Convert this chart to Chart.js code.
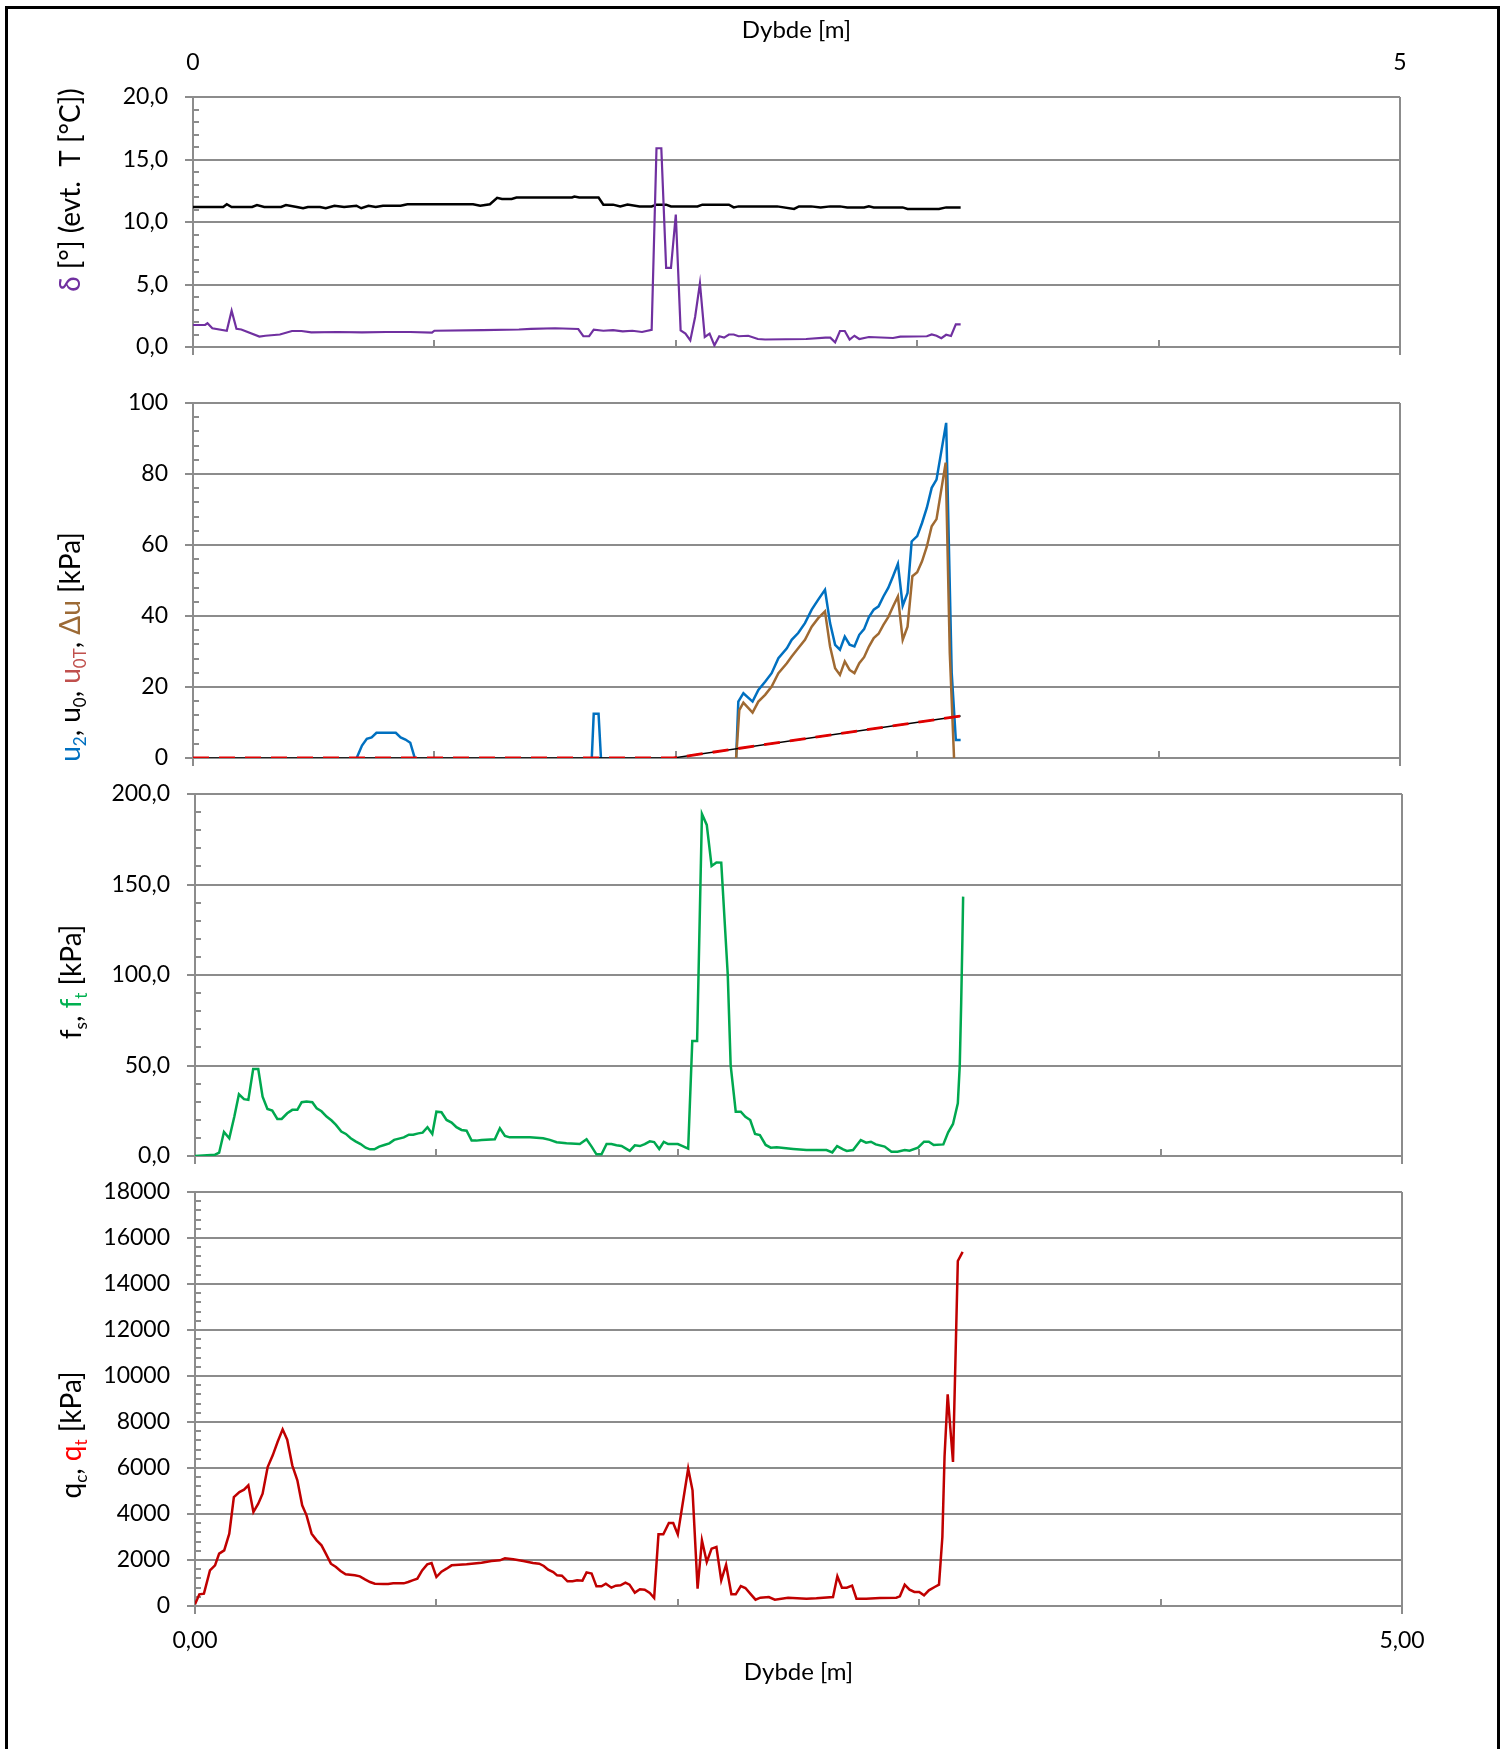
<!DOCTYPE html>
<html><head><meta charset="utf-8">
<script src="https://cdn.jsdelivr.net/npm/chart.js@4.4.1/dist/chart.umd.min.js"></script>
<style>
html,body{margin:0;padding:0;background:#fff;width:1507px;height:1749px;overflow:hidden;position:relative;}
canvas{position:absolute;left:0;}
#frame{position:absolute;left:5px;top:6px;width:1495px;height:1800px;border:3px solid #000;box-sizing:border-box;}
</style></head><body>
<div id="frame"></div>
<canvas id="c1" width="1507" height="365" style="top:0px"></canvas>
<canvas id="c2" width="1507" height="420" style="top:360px"></canvas>
<canvas id="c3" width="1507" height="400" style="top:775px"></canvas>
<canvas id="c4" width="1507" height="579" style="top:1170px"></canvas>
<script>
// ---------- DATA (depth [m], value) ----------
const tempT = [[0,11.2],[0.125,11.2],[0.14,11.42],[0.16,11.2],[0.245,11.2],[0.265,11.35],[0.295,11.2],[0.365,11.2],[0.385,11.35],[0.43,11.2],[0.456,11.1],[0.476,11.2],[0.526,11.2],[0.55,11.1],[0.586,11.3],[0.626,11.2],[0.677,11.3],[0.697,11.1],[0.727,11.3],[0.757,11.2],[0.787,11.3],[0.86,11.3],[0.888,11.42],[1.16,11.42],[1.19,11.3],[1.23,11.42],[1.26,11.93],[1.28,11.85],[1.32,11.85],[1.34,11.96],[1.57,11.96],[1.58,12.04],[1.6,11.96],[1.68,11.96],[1.70,11.39],[1.74,11.39],[1.77,11.25],[1.80,11.39],[1.85,11.25],[1.90,11.25],[1.92,11.39],[1.96,11.39],[1.98,11.25],[2.09,11.25],[2.11,11.39],[2.22,11.39],[2.24,11.17],[2.26,11.25],[2.42,11.25],[2.49,11.05],[2.51,11.25],[2.56,11.25],[2.60,11.17],[2.64,11.25],[2.68,11.25],[2.71,11.17],[2.78,11.17],[2.80,11.25],[2.82,11.17],[2.94,11.17],[2.96,11.05],[3.09,11.05],[3.12,11.17],[3.18,11.17]];
const deltaAngle = [[0,1.76],[0.05,1.76],[0.06,1.9],[0.08,1.5],[0.14,1.3],[0.16,2.9],[0.18,1.45],[0.2,1.4],[0.275,0.83],[0.3,0.9],[0.36,1.0],[0.41,1.28],[0.45,1.28],[0.49,1.17],[0.6,1.2],[0.7,1.17],[0.8,1.2],[0.9,1.2],[0.99,1.15],[1.0,1.3],[1.2,1.35],[1.35,1.4],[1.4,1.45],[1.5,1.5],[1.596,1.44],[1.617,0.86],[1.641,0.86],[1.66,1.39],[1.7,1.3],[1.74,1.35],[1.78,1.25],[1.82,1.3],[1.86,1.2],[1.90,1.37],[1.92,15.9],[1.94,15.9],[1.96,6.33],[1.98,6.33],[2.0,10.6],[2.02,1.33],[2.04,1.07],[2.06,0.53],[2.08,2.4],[2.10,5.1],[2.12,0.8],[2.14,1.07],[2.16,0.13],[2.18,0.86],[2.20,0.75],[2.22,1.0],[2.24,1.0],[2.26,0.86],[2.30,0.9],[2.34,0.64],[2.37,0.6],[2.54,0.64],[2.62,0.75],[2.64,0.75],[2.66,0.37],[2.68,1.28],[2.70,1.28],[2.72,0.6],[2.74,0.9],[2.76,0.64],[2.80,0.8],[2.90,0.72],[2.93,0.83],[3.04,0.86],[3.06,1.0],[3.08,0.9],[3.10,0.7],[3.12,0.98],[3.14,0.88],[3.16,1.81],[3.18,1.81]];
const u2Series = [[0,-0.6],[0.1,-0.5],[0.2,-0.6],[0.305,-0.6],[0.5,null],[0.678,0],[0.70,3.5],[0.72,5.4],[0.74,5.8],[0.76,7.1],[0.84,7.1],[0.86,5.8],[0.88,5.2],[0.90,4.3],[0.92,-0.3],[1.3,null],[1.652,0],[1.66,12.5],[1.68,12.5],[1.69,0],[2.0,null],[2.25,0],[2.259,15.9],[2.28,18.25],[2.318,15.9],[2.342,19.2],[2.37,21.5],[2.397,23.9],[2.425,28.1],[2.46,30.9],[2.48,33.3],[2.507,35.2],[2.535,38.0],[2.563,41.8],[2.59,44.6],[2.618,47.4],[2.639,38.0],[2.66,31.9],[2.68,30.5],[2.70,34.2],[2.72,31.9],[2.74,31.4],[2.76,34.7],[2.78,36.3],[2.80,39.7],[2.82,41.8],[2.84,42.7],[2.86,45.5],[2.88,47.9],[2.90,51.2],[2.92,54.7],[2.94,42.9],[2.96,46.5],[2.977,61.0],[3.0,62.5],[3.02,66.2],[3.04,70.5],[3.06,76.1],[3.08,78.4],[3.12,94.4],[3.143,23.9],[3.16,5.1],[3.18,5.1]];
const duSeries = [[2.25,0],[2.263,13.5],[2.28,15.6],[2.318,12.8],[2.342,15.9],[2.37,17.8],[2.397,20.1],[2.425,23.9],[2.46,26.7],[2.48,28.6],[2.507,30.9],[2.535,33.3],[2.563,37.0],[2.59,39.4],[2.618,41.3],[2.639,31.4],[2.66,25.3],[2.68,23.4],[2.70,27.2],[2.72,24.8],[2.74,23.9],[2.76,26.7],[2.78,28.4],[2.80,31.4],[2.82,33.8],[2.84,35.0],[2.86,37.5],[2.88,39.7],[2.90,42.7],[2.92,45.5],[2.94,33.3],[2.96,37.0],[2.98,51.2],[3.0,52.3],[3.02,55.4],[3.04,59.6],[3.06,65.3],[3.08,67.3],[3.118,83.2],[3.135,29.5],[3.153,-0.6]];
const u0Series = [[0,0],[1.99,0],[3.18,11.85]];
const u0TSeries = [[0,0],[1.99,0],[3.18,11.85]];
const fsSeries = [[0,0],[0.083,0.7],[0.10,1.8],[0.12,13.3],[0.142,9.8],[0.163,21.8],[0.182,34.1],[0.203,31.4],[0.221,31.0],[0.241,48.0],[0.262,48.0],[0.28,32.8],[0.30,26.0],[0.32,25.1],[0.341,20.5],[0.359,20.5],[0.382,23.6],[0.403,25.5],[0.424,25.5],[0.442,29.7],[0.462,30.1],[0.486,29.7],[0.504,26.4],[0.524,24.7],[0.545,21.8],[0.566,19.6],[0.584,17.2],[0.606,13.5],[0.625,12.2],[0.645,9.8],[0.665,8.1],[0.686,6.6],[0.707,4.6],[0.725,3.7],[0.743,3.7],[0.763,5.2],[0.784,6.1],[0.805,7.0],[0.825,8.9],[0.845,9.6],[0.865,10.3],[0.886,11.8],[0.904,11.8],[0.925,12.5],[0.943,12.9],[0.963,15.9],[0.983,12.2],[1.0,24.5],[1.021,24.2],[1.042,19.9],[1.063,18.5],[1.083,15.9],[1.104,14.4],[1.125,14.0],[1.146,8.5],[1.166,8.5],[1.187,8.9],[1.242,9.2],[1.263,15.3],[1.284,11.1],[1.304,10.3],[1.387,10.3],[1.442,9.8],[1.47,8.9],[1.498,7.6],[1.539,7.0],[1.594,6.6],[1.622,9.2],[1.643,5.2],[1.663,0.9],[1.684,0.9],[1.705,6.6],[1.725,6.6],[1.746,5.9],[1.767,5.5],[1.801,2.8],[1.822,5.9],[1.843,5.5],[1.863,6.6],[1.884,8.1],[1.902,7.7],[1.923,3.9],[1.942,7.8],[1.96,6.6],[2.0,6.6],[2.02,5.5],[2.043,4.1],[2.06,63.5],[2.08,63.5],[2.10,189],[2.12,182.9],[2.14,160.2],[2.16,162.2],[2.18,162.1],[2.207,100],[2.219,50],[2.24,24.5],[2.261,24.5],[2.28,21.7],[2.30,19.9],[2.32,12.2],[2.34,11.6],[2.364,6.1],[2.385,4.6],[2.41,4.8],[2.478,3.9],[2.533,3.3],[2.616,3.3],[2.64,2.0],[2.66,5.5],[2.685,3.7],[2.70,2.8],[2.726,3.3],[2.758,8.8],[2.78,7.4],[2.80,7.9],[2.82,6.4],[2.857,5.2],[2.885,2.4],[2.91,2.4],[2.94,3.3],[2.96,2.9],[2.995,4.6],[3.02,7.9],[3.04,7.9],[3.06,6.1],[3.10,6.4],[3.12,13.1],[3.14,17.7],[3.16,29.1],[3.168,50],[3.174,85],[3.179,120],[3.182,143.3]];
const qcSeries = [[0,72],[0.018,507],[0.037,536],[0.062,1550],[0.083,1768],[0.10,2275],[0.121,2420],[0.142,3144],[0.161,4738],[0.184,4956],[0.203,5057],[0.221,5246],[0.242,4086],[0.262,4449],[0.28,4883],[0.301,6042],[0.322,6550],[0.342,7129],[0.363,7680],[0.382,7231],[0.403,6115],[0.424,5463],[0.444,4376],[0.462,3941],[0.483,3144],[0.504,2855],[0.524,2637],[0.542,2275],[0.563,1840],[0.584,1695],[0.603,1521],[0.624,1377],[0.662,1333],[0.683,1290],[0.704,1159],[0.725,1043],[0.745,971],[0.78,956],[0.80,956],[0.821,985],[0.865,985],[0.883,1043],[0.901,1116],[0.921,1188],[0.941,1550],[0.962,1811],[0.98,1869],[1.0,1261],[1.021,1492],[1.042,1623],[1.063,1768],[1.125,1811],[1.187,1884],[1.228,1956],[1.263,1985],[1.284,2072],[1.318,2029],[1.36,1956],[1.40,1869],[1.426,1840],[1.445,1739],[1.463,1579],[1.484,1478],[1.50,1333],[1.52,1319],[1.543,1072],[1.564,1072],[1.583,1116],[1.605,1101],[1.622,1463],[1.643,1406],[1.663,855],[1.684,855],[1.702,971],[1.725,797],[1.743,884],[1.763,898],[1.783,1014],[1.80,927],[1.822,580],[1.843,725],[1.863,710],[1.884,565],[1.902,348],[1.92,3115],[1.94,3115],[1.963,3608],[1.981,3608],[2.0,3115],[2.043,5970],[2.061,5028],[2.082,753],[2.10,2855],[2.12,1913],[2.14,2492],[2.16,2565],[2.18,1116],[2.20,1797],[2.222,507],[2.24,507],[2.261,869],[2.28,782],[2.30,536],[2.322,275],[2.342,362],[2.377,391],[2.402,275],[2.457,362],[2.533,319],[2.574,333],[2.643,391],[2.661,1290],[2.68,797],[2.70,797],[2.722,884],[2.74,319],[2.78,319],[2.837,348],[2.905,362],[2.92,420],[2.94,927],[2.96,710],[2.98,609],[3.0,609],[3.02,464],[3.04,681],[3.064,826],[3.082,927],[3.096,3000],[3.105,6500],[3.118,9200],[3.14,6260],[3.16,15000],[3.18,15400]];

// axis ranges: [min, max, major step, minor step]
const deltaAxis = [0, 20, 5, 1];
const uAxis = [0, 100, 20, 4];
const fsAxis = [0, 200, 50, 10];
const qcAxis = [0, 18000, 2000, 400];
const depthRange = [0, 5];
const xTitle = 'Dybde [m]';

// ---------- STYLE ----------
const GRID = '#8c8c8c';
const FAM = "Lato, 'Open Sans', 'DejaVu Sans', sans-serif";
Chart.defaults.font.family = FAM;
Chart.defaults.font.size = 23;
Chart.defaults.color = '#000';
Chart.defaults.animation = false;

const TITLES = {
  p1: [{t:'δ',c:'#7030A0'},{t:' [°] (evt.  T [°C])',c:'#000'}],
  p2: [{t:'u',c:'#0070C0'},{t:'2',c:'#0070C0',sub:1},{t:', u',c:'#000'},{t:'0',c:'#000',sub:1},{t:', ',c:'#000'},{t:'u',c:'#C0504D'},{t:'0T',c:'#C0504D',sub:1},{t:', ',c:'#000'},{t:'Δu',c:'#9C6A35'},{t:' [kPa]',c:'#000'}],
  p3: [{t:'f',c:'#000'},{t:'s',c:'#000',sub:1},{t:', ',c:'#000'},{t:'f',c:'#00B050'},{t:'t',c:'#00B050',sub:1},{t:' [kPa]',c:'#000'}],
  p4: [{t:'q',c:'#000'},{t:'c',c:'#000',sub:1},{t:', ',c:'#000'},{t:'q',c:'#FF0000'},{t:'t',c:'#FF0000',sub:1},{t:' [kPa]',c:'#000'}]
};

const toXY = a => a.map(p => ({x: p[0], y: p[1]}));
const comma1 = v => v.toFixed(1).replace('.', ',');
const plain = v => String(v);

const minorTicks = {
  id: 'minorTicks',
  beforeDatasetsDraw(chart, args, o) {
    if (!o || !o.yMinor) return;
    const {ctx, chartArea: a} = chart;
    const y = chart.scales.y, x = chart.scales.x;
    ctx.save();
    ctx.strokeStyle = GRID; ctx.lineWidth = 2;
    ctx.beginPath();
    const n = Math.round((y.max - y.min) / o.yMinor);
    for (let i = 1; i < n; i++) {
      const v = y.min + i * o.yMinor;
      const r = v / o.yMajor;
      if (Math.abs(r - Math.round(r)) < 1e-6) continue;
      const py = Math.round(y.getPixelForValue(v));
      ctx.moveTo(a.left, py); ctx.lineTo(a.left + 6, py);
    }
    for (let v = 1; v < 5; v++) {
      const px = Math.round(x.getPixelForValue(v));
      ctx.moveTo(px, a.bottom); ctx.lineTo(px, a.bottom - 7);
    }
    ctx.stroke();
    ctx.restore();
  }
};

const richTitle = {
  id: 'richTitle',
  afterDraw(chart, args, o) {
    if (!o || !o.key) return;
    const segs = TITLES[o.key];
    const ctx = chart.ctx, size = o.size;
    ctx.save();
    ctx.translate(o.x, o.y);
    ctx.rotate(-Math.PI / 2);
    ctx.textBaseline = 'alphabetic';
    ctx.textAlign = 'left';
    const fontOf = s => (s.sub ? Math.round(size * 0.62) : size) + 'px ' + FAM;
    const widths = segs.map(s => { ctx.font = fontOf(s); return ctx.measureText(s.t).width; });
    let xx = -widths.reduce((p, q) => p + q, 0) / 2;
    segs.forEach((s, i) => {
      ctx.font = fontOf(s);
      ctx.fillStyle = s.c;
      ctx.fillText(s.t, xx, size * 0.33 + (s.sub ? size * 0.2 : 0));
      xx += widths[i];
    });
    ctx.restore();
  }
};
Chart.register(minorTicks, richTitle);

function yAxis(range, fmt, width) {
  return {
    type: 'linear', position: 'left', min: range[0], max: range[1],
    ticks: {stepSize: range[2], padding: 17, callback: fmt, autoSkip: false, color: '#000', font: {size: 23}},
    grid: {color: GRID, lineWidth: 2, drawTicks: true, tickLength: 8, tickColor: GRID, tickWidth: 2},
    border: {color: GRID, width: 2},
    afterFit: s => { s.width = width; s.paddingTop = 0; s.paddingBottom = 0; }
  };
}
function xAxis(height, showLabels) {
  const ax = {
    type: 'linear', position: 'bottom', min: depthRange[0], max: depthRange[1],
    ticks: {display: showLabels, stepSize: 5, padding: 13, maxRotation: 0, autoSkip: false,
            callback: v => v.toFixed(2).replace('.', ','), color: '#000', font: {size: 23}},
    grid: {color: GRID, lineWidth: 2, drawTicks: true, tickLength: 8, tickColor: GRID, tickWidth: 2},
    border: {color: GRID, width: 2},
    afterFit: s => { s.height = height; s.paddingLeft = 0; s.paddingRight = 0; }
  };
  if (showLabels) ax.title = {display: true, text: xTitle, color: '#000', font: {size: 24}, padding: {top: 0, bottom: 1}};
  return ax;
}
function line(data, color, width, order, extra) {
  return Object.assign({data: toXY(data), borderColor: color, backgroundColor: color, borderWidth: width,
    pointRadius: 0, pointHoverRadius: 0, tension: 0, fill: false, order: order}, extra || {});
}
function baseOpts(pad, yAx, xAx, minor, title) {
  return {
    responsive: false, animation: false, events: [],
    layout: {padding: pad, autoPadding: false},
    plugins: {legend: {display: false}, tooltip: {enabled: false}, minorTicks: minor, richTitle: title},
    scales: {x: xAx, y: yAx}
  };
}

// Panel 1
const o1 = baseOpts({top: 0, right: 107, bottom: 8, left: 0}, yAxis(deltaAxis, comma1, 193), xAxis(10, false),
  {yMinor: deltaAxis[3], yMajor: deltaAxis[2]}, {key: 'p1', x: 71, y: 190, size: 28});
o1.scales.x2 = {
  type: 'linear', position: 'top', min: depthRange[0], max: depthRange[1],
  ticks: {stepSize: 5, padding: 13, callback: plain, color: '#000', font: {size: 23}, maxRotation: 0},
  grid: {display: false}, border: {display: false},
  title: {display: true, text: xTitle, color: '#000', font: {size: 24}, padding: {top: 16, bottom: 0}},
  afterFit: s => { s.height = 97; s.paddingLeft = 0; s.paddingRight = 0; }
};
new Chart(document.getElementById('c1'), {
  type: 'line',
  data: {datasets: [
    line(deltaAngle, '#7030A0', 2.2, 0),
    line(tempT, '#000000', 2.5, 1)
  ]},
  options: o1
});

// Panel 2
new Chart(document.getElementById('c2'), {
  type: 'line',
  data: {datasets: [
    line(u0TSeries, '#E00000', 2.8, 0, {borderDash: [16, 10]}),
    line(u0Series, '#000000', 1.4, 1),
    line(duSeries, '#A06A32', 2.5, 2),
    line(u2Series, '#0070C0', 2.5, 3)
  ]},
  options: baseOpts({top: 43, right: 107, bottom: 12, left: 0}, yAxis(uAxis, plain, 193), xAxis(10, false),
    {yMinor: uAxis[3], yMajor: uAxis[2]}, {key: 'p2', x: 71, y: 287, size: 28})
});

// Panel 3
new Chart(document.getElementById('c3'), {
  type: 'line',
  data: {datasets: [ line(fsSeries, '#00A84F', 2.5, 0) ]},
  options: baseOpts({top: 19, right: 105, bottom: 10, left: 0}, yAxis(fsAxis, comma1, 195), xAxis(9, false),
    {yMinor: fsAxis[3], yMajor: fsAxis[2]}, {key: 'p3', x: 72, y: 207, size: 28})
});

// Panel 4
new Chart(document.getElementById('c4'), {
  type: 'line',
  data: {datasets: [ line(qcSeries, '#C00000', 2.5, 0) ]},
  options: baseOpts({top: 22, right: 105, bottom: 61, left: 0}, yAxis(qcAxis, plain, 195), xAxis(82, true),
    {yMinor: qcAxis[3], yMajor: qcAxis[2]}, {key: 'p4', x: 72, y: 265, size: 28})
});
</script>
</body></html>
